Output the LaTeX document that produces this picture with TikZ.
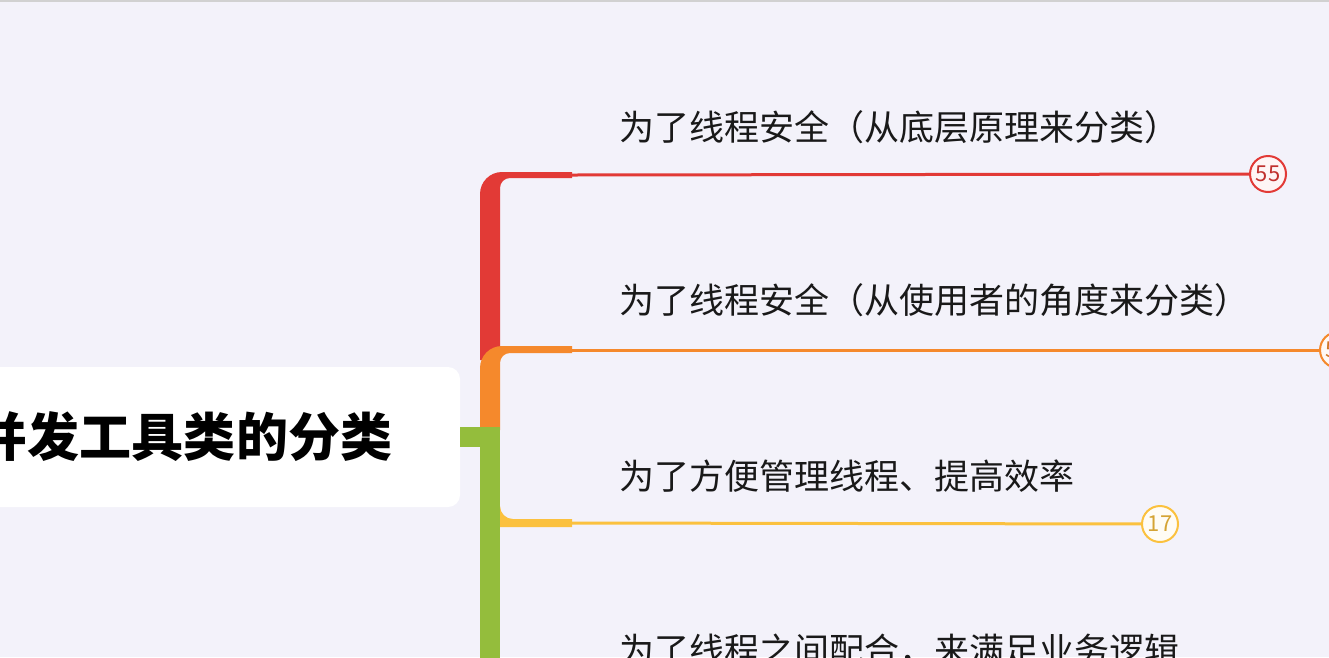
\documentclass[tikz,border=0pt]{standalone}
\usepackage{fontspec}
\usepackage{xcolor,tikz}
\usetikzlibrary{positioning,calc}
\newfontfamily\cjk{Noto Sans CJK SC}
\definecolor{mapbg}{HTML}{F3F2FA}
\definecolor{mapred}{HTML}{E23A36}
\definecolor{maporange}{HTML}{F5892C}
\definecolor{mapgreen}{HTML}{94BD3C}
\definecolor{mapyellow}{HTML}{FBC13E}

\begin{document}
\begin{tikzpicture}[
  x=1pt,y=1pt,
  topic/.style={anchor=base west,inner sep=0pt,text=black!90,
    font=\cjk\fontsize{35}{40}\selectfont},
  rootbox/.style={fill=white,rounded corners=12pt,minimum width=552pt,minimum height=140pt,
    inner sep=0pt,font=\cjk\bfseries\fontsize{52}{60}\selectfont},
  count/.style={circle,draw=#1,line width=2pt,fill=#1!5!white,text=#1!85!black,minimum size=36pt,
    inner sep=0pt,font=\cjk\fontsize{22}{24}\selectfont},
  twig/.style={line width=3pt,draw=#1}
]
\useasboundingbox (0,0) rectangle (1329,-657);
\fill[mapbg] (0,0) rectangle (1329,-657);
\draw[black!18,line width=2pt] (0,-1) -- (1329,-1);
\clip (0,0) rectangle (1329,-657);

% root topic
\node[rootbox] (root) at (184,-437) {并发工具类的分类};

% branch trunk
\fill[mapred] (480,-360) -- (480,-194) arc[start angle=180,end angle=90,radius=22pt]
  -- (572,-172) -- (572,-178) -- (510,-178) arc[start angle=90,end angle=180,radius=10pt]
  -- (500,-360) -- cycle;
\fill[maporange] (480,-430) -- (480,-368) arc[start angle=180,end angle=90,radius=22pt]
  -- (572,-346) -- (572,-353) -- (510,-353) arc[start angle=90,end angle=180,radius=10pt]
  -- (500,-430) -- cycle;
\fill[mapgreen] (460,-427) rectangle (500,-447);
\fill[mapgreen] (480,-427) rectangle (500,-660);
\fill[mapyellow] (500,-506) arc[start angle=180,end angle=270,radius=13pt]
  -- (572,-519) -- (572,-527) -- (500,-527) -- cycle;

% subtopics
\node[topic] (safelow) at (619,-140) {为了线程安全（从底层原理来分类）};
\node[topic] (safeuse) at (619,-313) {为了线程安全（从使用者的角度来分类）};
\node[topic] (manage) at (619,-489) {为了方便管理线程、提高效率};
\node[topic] (cooperate) at (619,-663) {为了线程之间配合，来满足业务逻辑};

% child counters
\node[count=mapred] (n1) at (1268,-174) {55};
\node[count=maporange] (n2) at (1338,-350) {55};
\node[count=mapyellow] (n3) at (1160,-524) {17};

\coordinate (e1) at (572,-175);
\coordinate (e2) at (572,-350);
\coordinate (e3) at (572,-523);
\draw[twig=mapred] (e1) -- (n1);
\draw[twig=maporange] (e2) -- (n2);
\draw[twig=mapyellow] (e3) -- (n3);
\end{tikzpicture}
\end{document}
